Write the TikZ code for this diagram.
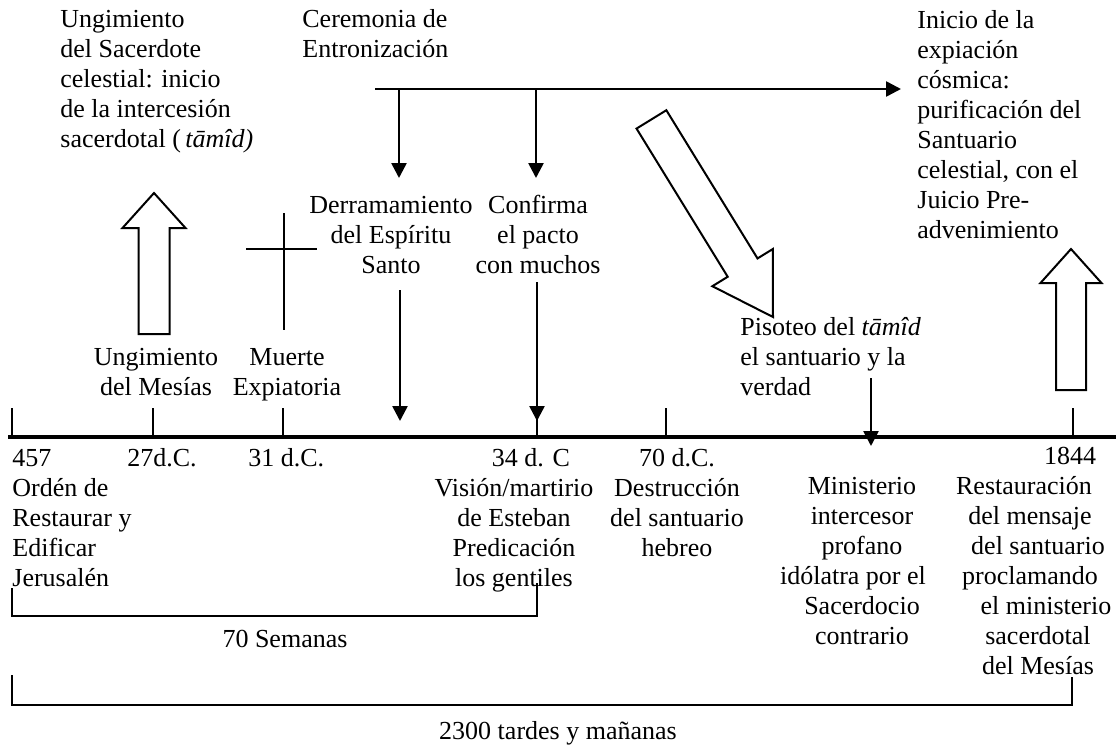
\documentclass[tikz,border=0pt]{standalone}
\usepackage{fontspec}
\setmainfont{Liberation Serif}
\usetikzlibrary{arrows.meta}

\newcommand{\blockarrow}[6]{%
	\begin{scope}[shift={#1}, rotate=#2]
		\draw[blockline] (0,0) -- (-#4,#5/2) -- (-#4,#6/2) -- (-#3,#6/2)
			-- (-#3,-#6/2) -- (-#4,-#6/2) -- (-#4,-#5/2) -- cycle;
	\end{scope}}

\begin{document}
\begin{tikzpicture}[
		x=0.5pt, y=-0.5pt,
		every node/.style={font=\fontsize{13}{15}\selectfont, inner sep=0pt},
		lefttext/.style={align=left, anchor=base west},
		midtext/.style={align=center, anchor=base},
		thinline/.style={draw, line width=0.85pt},
		axisline/.style={draw, line width=1.8pt},
		link/.style={-{Triangle[length=7.5pt,width=7.5pt]}, draw, line width=1.3pt},
		blockline/.style={draw, line width=1pt, line join=miter, fill=white}
	]

	\useasboundingbox (0,0) rectangle (1116,745);

	% nodes sit on the baseline of their last line
	\node[lefttext] (sacerdote) at (60,147) {Ungimiento\\del Sacerdote\\celestial: inicio\\de la intercesión\\sacerdotal (\,\textit{tāmîd)}};
	\node[lefttext] (ceremonia) at (302,57) {Ceremonia de\\Entronización};
	\node[lefttext] (inicio) at (917,238) {Inicio de la\\expiación\\cósmica:\\purificación del\\Santuario\\celestial, con el\\Juicio Pre-\\advenimiento};

	\coordinate (trono) at (375,89);
	\coordinate (cosmica) at (901,89);
	\coordinate (baja1) at (399,89);
	\coordinate (baja2) at (536,89);
	\coordinate (fin1) at (399,178);
	\coordinate (fin2) at (536,178);
	\draw[link] (trono) -- (cosmica);
	\draw[link] (baja1) -- (fin1);
	\draw[link] (baja2) -- (fin2);

	\node[midtext] (derrama) at (391,273) {Derramamiento\\del Espíritu\\Santo};
	\node[midtext] (pacto) at (538,273) {Confirma\\el pacto\\con muchos};
	\node[midtext] (mesias) at (156,395) {Ungimiento\\del Mesías};
	\node[midtext] (muerte) at (287,395) {Muerte\\Expiatoria};
	\node[lefttext] (pisoteo) at (740,395) {Pisoteo del \textit{tāmîd}\\el santuario y la\\verdad};

	\blockarrow{(154,193)}{90}{141}{35}{63}{31}
	\blockarrow{(1071,249)}{90}{141}{34}{61}{30}
	\blockarrow{(773,317)}{-58.4}{232}{58}{71}{35}

	% cruz
	\draw[thinline] (284,213) -- (284,330);
	\draw[thinline] (246,249) -- (317,249);

	\coordinate (espiritu) at (400,290);
	\coordinate (espiritu fin) at (400,421);
	\coordinate (muchos) at (537,282);
	\coordinate (muchos fin) at (537,421);
	\coordinate (verdad) at (871,378);
	\coordinate (verdad fin) at (871,446);
	\draw[link] (espiritu) -- (espiritu fin);
	\draw[link] (muchos) -- (muchos fin);
	\draw[link] (verdad) -- (verdad fin);

	\draw[axisline] (8,437) -- (1116,437);
	\foreach \x in {12,153,283,537,666,1073}{
		\draw[thinline] (\x,408) -- (\x,437);
	}

	\node[lefttext] (orden) at (12,586) {457\\Ordén de\\Restaurar y\\Edificar\\Jerusalén};
	\node[lefttext] (ano27) at (127,466) {27d.C.};
	\node[lefttext] (ano31) at (248,466) {31 d.C.};
	\node[midtext] (ano34) at (531,466) {34 d. C};
	\node[midtext] (esteban) at (514,586) {Visión/martirio\\de Esteban\\Predicación\\los gentiles};
	\node[midtext] (templo) at (677,556) {70 d.C.\\Destrucción\\del santuario\\hebreo};
	\node[midtext] (ministerio) at (862,644) {Ministerio\\intercesor\\profano\\\hspace*{-9pt}idólatra por el\\Sacerdocio\\contrario};
	\node[midtext] (ano1844) at (1070,464) {1844};
	\node[midtext] (restaura) at (1035,674) {\hspace*{-11pt}Restauración\\\hspace*{-5pt}del mensaje\\\hspace*{3pt}del santuario\\\hspace*{-5pt}proclamando\\\hspace*{11pt}el ministerio\\\hspace*{3pt}sacerdotal\\\hspace*{3pt}del Mesías};

	% llaves de los periodos
	\draw[thinline] (12,588) |- (537,616) -- (537,583);
	\node[midtext] (semanas) at (285,647) {70 Semanas};
	\draw[thinline] (12,675) |- (1072,705) -- (1072,677);
	\node[midtext] (tardes) at (558,739) {2300 tardes y mañanas};

\end{tikzpicture}
\end{document}
